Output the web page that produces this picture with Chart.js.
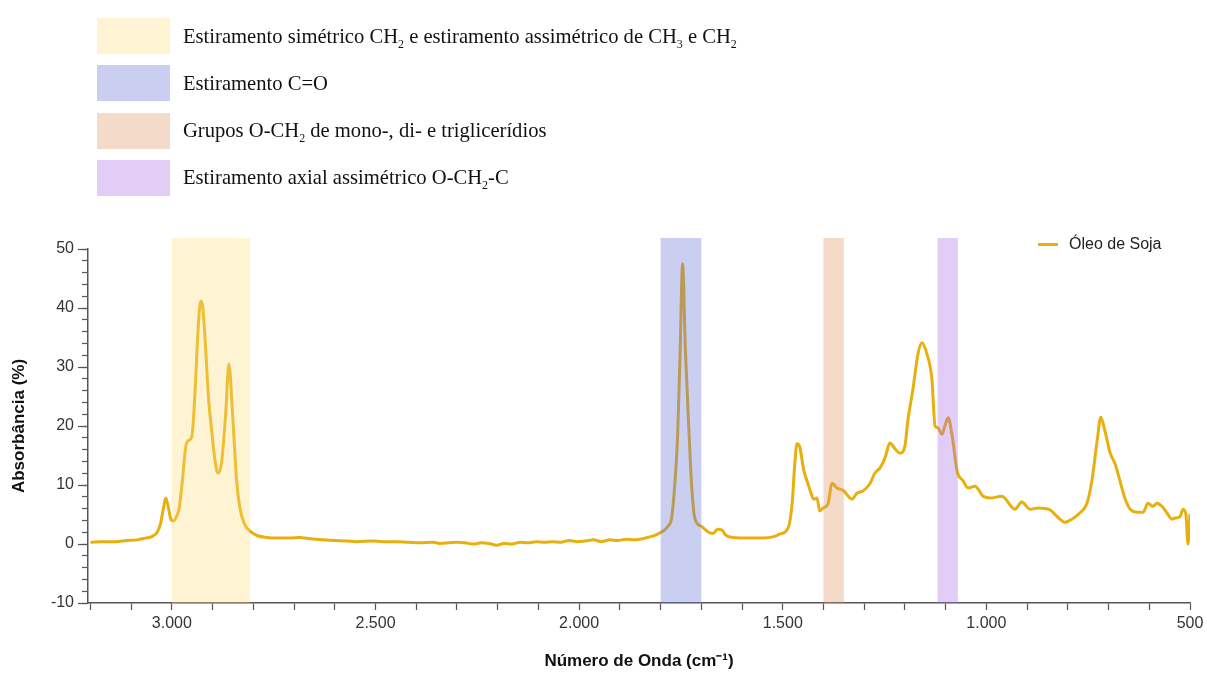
<!DOCTYPE html>
<html lang="pt-BR">
<head>
<meta charset="utf-8">
<title>Espectro FTIR - Óleo de Soja</title>
<script src="https://cdn.jsdelivr.net/npm/chart.js@4/dist/chart.umd.min.js"></script>
<style>
    body { margin: 0; background: #fff; }
    #wrap { position: relative; width: 1207px; height: 675px; }
    #chart { position: absolute; left: 0; top: 0; }
    #bands-legend { position: absolute; left: 97px; top: 18px; font-family: 'Liberation Serif', 'Times New Roman', serif; font-size: 20.6px; color: #111; }
    .band-row { display: flex; align-items: center; height: 36px; margin-bottom: 11.3px; }
    .band-box { width: 73px; height: 36px; margin-right: 13px; }
    .band-row sub { font-size: 0.58em; vertical-align: -0.45em; line-height: 0; }
    #series-legend { position: absolute; left: 1038px; top: 235px; display: flex; align-items: center; font-family: 'Liberation Sans', Arial, sans-serif; font-size: 16px; color: #222; }
    #series-legend .swatch { width: 20px; height: 3px; margin-right: 11px; }
</style>
</head>
<body>
<div id="wrap">
    <canvas id="chart" width="1207" height="675"></canvas>
    <div id="bands-legend"></div>
    <div id="series-legend"></div>
</div>
<script>
// Spectrum (cm-1 / %)
const wavenumbers = [
    3200, 3170, 3140, 3110, 3085, 3065, 3048, 3036, 3028, 3021, 3015, 3009, 3003, 2996, 2989, 2982,
    2975, 2966, 2958, 2951, 2943, 2936, 2929, 2924, 2917, 2910, 2902, 2895, 2887, 2878, 2868, 2860,
    2851, 2841, 2833, 2822, 2805, 2790, 2767, 2740, 2710, 2686, 2660, 2630, 2600, 2570, 2546, 2510,
    2480, 2450, 2420, 2390, 2360, 2342, 2320, 2300, 2280, 2260, 2240, 2222, 2202, 2185, 2165, 2145,
    2125, 2105, 2085, 2065, 2045, 2025, 2005, 1985, 1965, 1945, 1925, 1905, 1885, 1865, 1845, 1826,
    1810, 1794, 1782, 1773, 1765, 1758, 1752, 1746, 1739, 1730, 1724, 1716, 1700, 1682, 1671, 1660,
    1650, 1640, 1622, 1588, 1549, 1520, 1507, 1487, 1477, 1470, 1465, 1459, 1448, 1438, 1430, 1424,
    1416, 1409, 1401, 1389, 1379, 1367, 1352, 1330, 1318, 1303, 1286, 1274, 1261, 1249, 1237, 1224,
    1212, 1200, 1193, 1180, 1168, 1158, 1146, 1134, 1126, 1119, 1109, 1102, 1094, 1084, 1072, 1057,
    1045, 1028, 1008, 991, 962, 930, 913, 893, 873, 844, 827, 807, 790, 770, 753, 741,
    728, 719, 709, 696, 684, 672, 660, 647, 630, 615, 603, 591, 581, 569, 557, 544,
    537, 525, 517, 510, 505, 500
];
const absorbance = [
    0.3, 0.4, 0.4, 0.6, 0.7, 1.0, 1.3, 2.0, 3.4, 6.0, 7.8, 6.3, 4.3, 3.9, 4.6, 6.1,
    10.2, 16.5, 17.6, 18.2, 26.0, 36.0, 41.2, 40.0, 33.0, 24.7, 19.0, 14.6, 12.0, 13.8, 22.0, 30.5,
    22.0, 10.7, 6.1, 3.4, 2.0, 1.4, 1.1, 1.0, 1.0, 1.1, 0.9, 0.7, 0.6, 0.5, 0.4, 0.5,
    0.4, 0.4, 0.3, 0.2, 0.3, 0.1, 0.2, 0.3, 0.2, 0.0, 0.2, 0.1, -0.2, 0.1, 0.0, 0.3,
    0.2, 0.4, 0.3, 0.4, 0.3, 0.6, 0.4, 0.5, 0.7, 0.4, 0.7, 0.6, 0.8, 0.7, 0.9, 1.2,
    1.6, 2.2, 3.0, 4.4, 10.2, 18.6, 32.7, 47.5, 32.7, 18.6, 10.2, 4.4, 3.0, 2.0, 1.8, 2.5,
    2.4, 1.5, 1.1, 1.0, 1.0, 1.3, 1.7, 2.7, 6.8, 14.0, 17.0, 16.6, 12.4, 10.2, 8.5, 7.6,
    7.8, 5.6, 6.1, 6.8, 10.3, 9.5, 9.1, 7.6, 8.6, 9.0, 10.2, 12.0, 12.9, 14.6, 17.1, 16.1,
    15.4, 16.6, 20.8, 26.4, 32.2, 34.1, 32.2, 28.1, 20.0, 19.7, 18.6, 20.0, 21.4, 18.3, 12.4, 10.7,
    9.5, 9.8, 8.1, 7.8, 8.1, 5.9, 7.1, 5.9, 6.1, 5.8, 4.7, 3.7, 4.2, 5.3, 6.9, 10.7,
    17.5, 21.5, 19.2, 15.4, 13.6, 10.7, 7.8, 5.9, 5.4, 5.4, 6.9, 6.4, 6.9, 6.4, 5.3, 4.2,
    4.4, 4.6, 5.9, 5.0, 0.0, 5.1
];

const seriesLabel = 'Óleo de Soja';
const seriesColor = 'rgb(231, 176, 14)';

// Axis ticks: every 100 cm-1 (label every 500), every 2 % (label every 10)
const xTickValues = [];
for (let v = 500; v <= 3200; v += 100) xTickValues.push(v);
const xLabelStep = 500;
const yLabelStep = 10;

// Highlighted absorption bands
const bandStarts = [3000, 1800, 1400, 1120];
const bandEnds = [2808, 1700, 1350, 1070];
const bandLabels = [
    'Estiramento simétrico CH<sub>2</sub> e estiramento assimétrico de CH<sub>3</sub> e CH<sub>2</sub>',
    'Estiramento C=O',
    'Grupos O-CH<sub>2</sub> de mono-, di- e triglicerídios',
    'Estiramento axial assimétrico O-CH<sub>2</sub>-C'
];
const bandFills = [
    'rgba(252, 221, 126, 0.35)',
    'rgba(103, 118, 219, 0.35)',
    'rgba(224, 149, 98, 0.35)',
    'rgba(169, 112, 226, 0.35)'
];
const bandSwatches = ['#fef3d2', '#cacff2', '#f4dac8', '#e1cdf5'];

// Build the HTML legends
const bandsLegend = document.getElementById('bands-legend');
bandLabels.forEach((label, i) => {
    const row = document.createElement('div');
    row.className = 'band-row';
    row.innerHTML = `<div class="band-box" style="background:${bandSwatches[i]}"></div><span>${label}</span>`;
    bandsLegend.appendChild(row);
});
document.getElementById('series-legend').innerHTML =
    `<div class="swatch" style="background:${seriesColor}"></div><span>${seriesLabel}</span>`;

// Draws the bands over the line, slightly above the plot top
const bandsPlugin = {
    id: 'bands',
    afterDatasetsDraw(chart) {
        const { ctx, chartArea, scales } = chart;
        ctx.save();
        bandStarts.forEach((start, i) => {
            const x1 = scales.x.getPixelForValue(start);
            const x2 = scales.x.getPixelForValue(bandEnds[i]);
            ctx.fillStyle = bandFills[i];
            ctx.fillRect(Math.min(x1, x2), chartArea.top - 11, Math.abs(x2 - x1), chartArea.bottom - chartArea.top + 11);
        });
        ctx.restore();
    }
};

// Longer tick marks for the labelled y values
const majorTicksPlugin = {
    id: 'majorTicks',
    afterDraw(chart) {
        const { ctx, chartArea, scales } = chart;
        ctx.save();
        ctx.strokeStyle = '#555';
        ctx.lineWidth = 1.2;
        scales.y.ticks.forEach(t => {
            if (t.value % yLabelStep !== 0) return;
            const y = Math.round(scales.y.getPixelForValue(t.value)) + 0.5;
            ctx.beginPath();
            ctx.moveTo(chartArea.left - 10, y);
            ctx.lineTo(chartArea.left, y);
            ctx.stroke();
        });
        ctx.restore();
    }
};

// 3000 -> "3.000"
function formatNumber(v) {
    return String(v).replace(/\B(?=(\d{3})+(?!\d))/g, '.');
}

Chart.defaults.font.family = "'Liberation Sans', Arial, sans-serif";
Chart.defaults.color = '#333';

new Chart(document.getElementById('chart'), {
    type: 'line',
    data: {
        datasets: [{
            label: seriesLabel,
            data: wavenumbers.map((w, i) => ({ x: w, y: absorbance[i] })),
            borderColor: seriesColor,
            backgroundColor: seriesColor,
            borderWidth: 3,
            pointRadius: 0,
            cubicInterpolationMode: 'monotone'
        }]
    },
    options: {
        responsive: false,
        animation: false,
        devicePixelRatio: 1,
        layout: { padding: { top: 249, right: 17, left: 0, bottom: 0 } },
        plugins: {
            legend: { display: false },
            tooltip: { enabled: false }
        },
        scales: {
            x: {
                type: 'linear',
                reverse: true,
                min: 500,
                max: 3206,
                afterFit: scale => { scale.height = 72; },
                afterBuildTicks: scale => { scale.ticks = xTickValues.map(v => ({ value: v })); },
                border: { display: true, color: '#555', width: 1.5 },
                grid: { drawOnChartArea: false, tickLength: 7, tickColor: '#555', tickWidth: 1.2 },
                ticks: {
                    autoSkip: false,
                    maxRotation: 0,
                    padding: 4,
                    font: { size: 16 },
                    callback: v => (v % xLabelStep === 0 ? formatNumber(v) : '')
                },
                title: {
                    display: true,
                    text: 'Número de Onda (cm⁻¹)',
                    font: { size: 17, weight: 'bold' },
                    color: '#111',
                    padding: { top: 0, bottom: 3 }
                }
            },
            y: {
                min: -10,
                max: 50,
                afterFit: scale => { scale.width = 88; },
                border: { display: true, color: '#555', width: 1.5 },
                grid: { drawOnChartArea: false, tickLength: 6, tickColor: '#555', tickWidth: 1.2 },
                ticks: {
                    stepSize: 2,
                    autoSkip: false,
                    padding: 8,
                    font: { size: 16 },
                    callback: v => (v % yLabelStep === 0 ? v : '')
                },
                title: {
                    display: true,
                    text: 'Absorbância (%)',
                    font: { size: 17, weight: 'bold' },
                    color: '#111',
                    padding: { top: 9, bottom: 0 }
                }
            }
        }
    },
    plugins: [bandsPlugin, majorTicksPlugin]
});
</script>
</body>
</html>
